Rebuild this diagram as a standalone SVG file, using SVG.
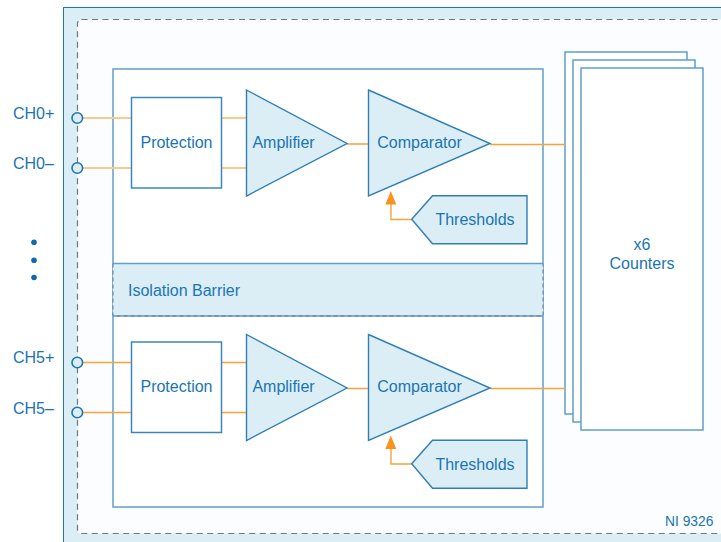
<svg xmlns="http://www.w3.org/2000/svg" width="721" height="542" viewBox="0 0 721 542">
<style>
text{font-family:"Liberation Sans",Arial,sans-serif;font-size:16px;fill:#1a74b4}
.m{text-anchor:middle}
.b{fill:#fff;stroke:#5f9fcb;stroke-width:1.5}
.s{fill:#dbeef5;stroke:#2f7fb5;stroke-width:1.4}
.w{fill:none;stroke:#f9a13a;stroke-width:1.400}
.t{fill:none;stroke:#f9c98e;stroke-width:1.800}
.p{fill:#dbeef5;stroke:#1f75ae;stroke-width:1.600}
</style>
<defs>
<g id="prot"><rect class="b" x="131.500" y="0" width="90" height="90.500" style="stroke:#3c86ba"/><text class="m" x="176.500" y="50">Protection</text></g>
<g id="amp"><path class="s" d="M246.500 0L347 53.500L246.500 106Z"/><text class="m" x="283.500" y="57.500">Amplifier</text></g>
<g id="comp"><path class="s" d="M368.500 0L490 53.500L368.500 106Z"/><text class="m" x="419.500" y="57.500">Comparator</text></g>
<g id="thr"><path class="s" d="M411.700 24L432.500 0.500H527V48.500H432.500Z"/><text class="m" x="475" y="30">Thresholds</text></g>
</defs>
<rect x="0" y="0" width="721" height="542" fill="#fff"/>
<g id="module">
<rect x="63.500" y="7.500" width="670" height="550" fill="#dbeef5" stroke="#1f75ae" stroke-width="1"/>
<rect x="77.500" y="19.500" width="660" height="514" rx="4" fill="#fbfdff" stroke="#6f7780" stroke-width="1.200" stroke-dasharray="6 4.500"/>
<text x="665" y="526" style="font-size:13.800px">NI 9326</text>
</g>
<g id="isolated-box"><rect class="b" x="113" y="69" width="430" height="438"/></g>
<g id="counters">
<rect class="b" x="565" y="52" width="122" height="362"/>
<rect class="b" x="573" y="60" width="122" height="362"/>
<rect class="b" x="581" y="68" width="122" height="362"/>
<text class="m" x="642" y="250">x6</text>
<text class="m" x="642" y="269">Counters</text>
</g>
<g id="isolation-barrier">
<rect x="113" y="263.500" width="430" height="52.500" fill="#dbeef5"/>
<path d="M113 263.500H543M113 316H543" stroke="#5f9fcb" stroke-width="1.500" fill="none"/>
<path d="M113 263.500V316H543V263.500" stroke="#6f7780" stroke-width="1" stroke-dasharray="4 3" fill="none"/>
<text x="128" y="296">Isolation Barrier</text>
</g>
<g id="connectors">
<path class="t" d="M83 118H131M221 118H246M83 168H131M221 168H246"/>
<path class="w" d="M83 362.500H131M221 362.500H246M83 412.500H131M221 412.500H246"/>
<path class="w" d="M347 144H368M490 144.500H565M347 388.500H368M490 388.500H565"/>
<path class="w" d="M411.700 219.500H391V204M411.700 464H391V448.500"/>
<path d="M390.800 191L396.300 204.500H385.300Z" fill="#f7931e"/>
<path d="M390.800 435.500L396.300 449H385.300Z" fill="#f7931e"/>
</g>
<g id="channel-0">
<use href="#prot" y="97.500"/><use href="#amp" y="90"/><use href="#comp" y="90"/><use href="#thr" y="195.200"/>
</g>
<g id="channel-5">
<use href="#prot" y="342"/><use href="#amp" y="334.500"/><use href="#comp" y="334.500"/><use href="#thr" y="439.700"/>
</g>
<g id="terminals">
<circle class="p" cx="77.300" cy="118" r="5.300"/>
<circle class="p" cx="77.300" cy="168" r="5.300"/>
<circle class="p" cx="77.300" cy="362.500" r="5.300"/>
<circle class="p" cx="77.300" cy="412.500" r="5.300"/>
<text x="13" y="118.500">CH0+</text>
<text x="13" y="168.500">CH0–</text>
<text x="13" y="363">CH5+</text>
<text x="13" y="414">CH5–</text>
<circle cx="34" cy="242.300" r="2.800" fill="#0f69ae"/>
<circle cx="34" cy="260.300" r="2.800" fill="#0f69ae"/>
<circle cx="34" cy="277.500" r="2.800" fill="#0f69ae"/>
</g>
</svg>
